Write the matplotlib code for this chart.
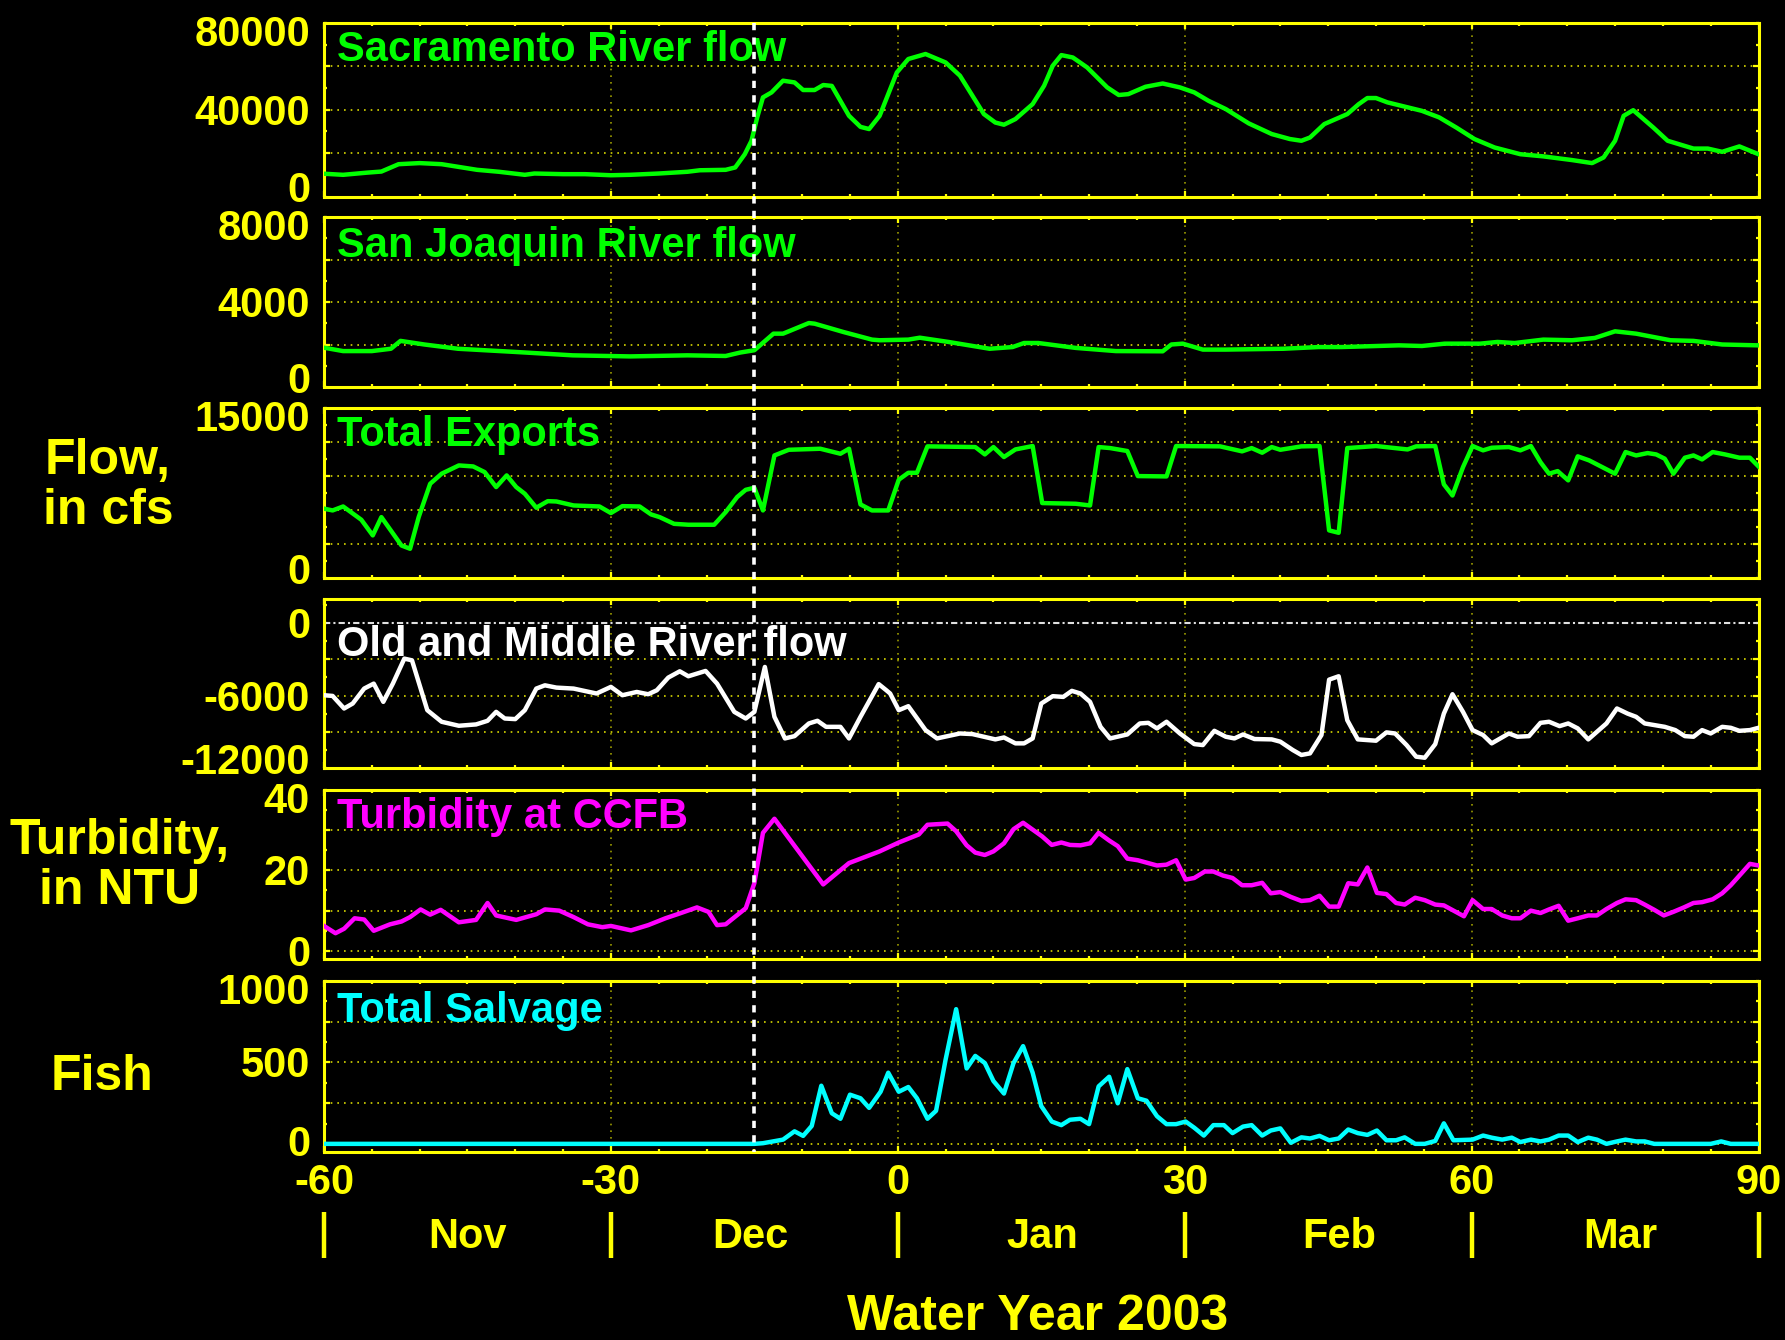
import matplotlib
matplotlib.use("Agg")
import matplotlib.pyplot as plt
from matplotlib.transforms import blended_transform_factory, offset_copy
from matplotlib.ticker import MultipleLocator

# ---------------- data (day relative to Jan 1, 2003) ----------------
sac_days = [-60, -58, -55.5, -54, -52.2, -50, -47.7, -44, -41.7, -39, -38, -35, -32.7, -30, -28, -25, -22,
            -20.7, -18, -17, -16, -15.3, -14.7, -14.1, -13.2, -12, -10.8, -9.9, -8.7, -7.8, -6.9, -5.1, -3.9,
            -3, -1.9, -0.1, 1.1, 2.9, 5, 6.5, 9, 10.2, 11.1, 12.3, 14.1, 15.3, 16.2, 17.1, 18.3, 19.8, 21.9,
            23.1, 24.1, 25.9, 27.7, 29.5, 31, 32.5, 34.3, 36.7, 39.1, 41, 42.2, 43.1, 44.6, 47, 48.2, 49.1, 50,
            51.2, 54.8, 56.6, 58.4, 60.3, 62.4, 65.1, 67.5, 70.5, 72.6, 73.8, 75, 75.9, 76.9, 79, 80.5, 81.7,
            83.2, 84.7, 86.2, 88, 90]
sac_flow = [10500, 10000, 11000, 11500, 14900, 15400, 14900, 12300, 11400, 10000, 10600, 10300, 10300, 9800,
            10000, 10600, 11400, 12100, 12300, 13400, 19500, 25700, 36500, 45700, 48000, 53400, 52600, 49100,
            49100, 51400, 51000, 37200, 32100, 31100, 37200, 57200, 63400, 65700, 61800, 55700, 38000, 34100,
            33100, 35700, 42600, 51100, 60300, 65200, 64100, 59500, 50300, 46800, 47200, 50600, 52100, 50300,
            48000, 44100, 40300, 33700, 28800, 26500, 25700, 27200, 33400, 38000, 42600, 45400, 45400, 43400,
            39500, 36500, 31800, 26500, 22600, 19500, 18500, 16800, 15400, 18000, 25700, 37200, 39800, 31800,
            25700, 24100, 22100, 22100, 20600, 23100, 19500]

sj_days = [-60, -58, -55, -53, -52, -49.5, -46, -40, -34, -28, -22, -18, -16.5, -15, -13, -12, -9.3, -8.7, -5.7,
           -2.7, -1.9, 1.1, 2.3, 5.3, 9.6, 12, 13.2, 14.7, 18.6, 22.8, 27.7, 28.6, 29.8, 31.9, 34.3, 40.3, 44,
           46.4, 52.4, 54.8, 57.2, 60.9, 62.7, 64.5, 67.5, 70.5, 72.9, 75, 77.2, 80.8, 83.2, 86.2, 90]
sj_flow = [1850, 1690, 1690, 1800, 2170, 2000, 1800, 1650, 1490, 1440, 1490, 1460, 1620, 1730, 2510, 2510, 3010,
           2980, 2590, 2230, 2200, 2230, 2320, 2120, 1800, 1880, 2070, 2070, 1840, 1690, 1680, 2000, 2040, 1760,
           1760, 1800, 1880, 1880, 1960, 1930, 2040, 2040, 2120, 2070, 2230, 2200, 2310, 2620, 2510, 2200, 2170,
           2000, 1960]

exp_days = [-60, -59.1, -58, -56.1, -54.9, -54, -51.9, -51, -50.1, -48.9, -47.7, -45.9, -44.4, -43.2, -42, -40.9,
            -39.9, -39, -37.8, -36.6, -35.7, -33.9, -31.2, -30, -28.8, -27, -25.8, -24.9, -23.4, -21.9, -19.2, -18,
            -16.8, -15.9, -15, -14.1, -12.9, -11.4, -8.1, -6, -5.1, -3.9, -2.7, -1, 0.1, 1.1, 2, 3.1, 8.1, 9.1, 10,
            11.1, 12.3, 14.1, 15.1, 18.6, 20.1, 21, 22.2, 24, 25.1, 28.1, 29.1, 33.7, 36, 37, 38.1, 39.1, 40, 42.2,
            44.1, 45.1, 46.1, 47, 50, 53.3, 54.2, 56.2, 57.1, 58, 59.1, 60.1, 61.2, 62.1, 63.9, 65.1, 66.2, 67.2,
            68.1, 69, 70.1, 71.1, 72.3, 75, 76.1, 77.2, 78.4, 79.3, 80.2, 81.1, 82.3, 83.2, 84.1, 85.2, 86.5, 88,
            89.1, 90]
exports = [6100, 5940, 6290, 5120, 3740, 5350, 2850, 2560, 5350, 8290, 9180, 9910, 9820, 9320, 8000, 9030, 8000,
           7410, 6180, 6760, 6730, 6380, 6290, 5710, 6320, 6290, 5590, 5350, 4760, 4680, 4680, 5790, 7120, 7760,
           7940, 5940, 10790, 11290, 11380, 10940, 11380, 6470, 5940, 5940, 8650, 9260, 9260, 11590, 11530, 10880,
           11530, 10650, 11320, 11620, 6590, 6530, 6380, 11530, 11440, 11180, 8970, 8940, 11620, 11590, 11150,
           11440, 11030, 11530, 11290, 11590, 11620, 4180, 3970, 11440, 11620, 11320, 11590, 11620, 8240, 7260,
           9760, 11620, 11240, 11470, 11530, 11240, 11620, 10200, 9180, 9410, 8590, 10710, 10350, 9180, 11090,
           10790, 11000, 10880, 10500, 9180, 10590, 10790, 10440, 11090, 10880, 10590, 10590, 9820]

omr_days = [-60, -59.1, -57.9, -57, -55.8, -54.8, -53.8, -52.8, -51.6, -50.8, -49.2, -47.7, -45.9, -44.1, -42.9,
            -42, -41.1, -40, -39, -37.8, -36.9, -35.7, -33.9, -31.5, -30, -28.8, -27.3, -26.1, -25.2, -24, -22.8,
            -21.9, -20.1, -18.9, -17.1, -15.9, -15, -13.9, -12.9, -11.8, -10.8, -9.3, -8.4, -7.5, -6, -5.1, -3.9,
            -2, -1.2, -0.8, 0.1, 1.1, 2.9, 4.1, 6.5, 7.8, 10.2, 11.1, 12.3, 13.2, 14.1, 15, 16.2, 17.3, 18.2, 19.1,
            20.1, 21.2, 22.2, 24, 25.3, 26.2, 27.1, 28.1, 29.5, 31, 31.9, 33.1, 34.3, 35.2, 36.1, 37.3, 39.1, 40,
            41.3, 42.2, 43.1, 44.3, 45.1, 46.1, 47, 48.1, 50, 51.1, 52, 53.2, 54.2, 55.1, 56.2, 57.1, 58, 59.1,
            60.1, 61.2, 62.1, 63.9, 64.8, 66, 67.2, 68.1, 69.2, 70.1, 71.1, 72.2, 74.1, 75.2, 76.3, 77.2, 78.1,
            80.2, 81.3, 82.3, 83.2, 84.1, 85, 86.2, 87.1, 88, 89.1, 90]
omr_flow = [-5970, -6030, -7070, -6660, -5420, -5010, -6520, -5010, -2940, -3080, -7210, -8170, -8500, -8390,
            -8090, -7350, -7900, -7950, -7210, -5420, -5150, -5340, -5420, -5830, -5280, -5970, -5700, -5890,
            -5560, -4510, -3990, -4400, -3960, -5010, -7350, -7900, -7350, -3630, -7760, -9550, -9360, -8310,
            -8090, -8590, -8590, -9550, -7760, -5050, -5560, -5830, -7210, -6880, -8860, -9550, -9140, -9190,
            -9630, -9470, -9960, -9960, -9550, -6660, -6050, -6110, -5610, -5830, -6520, -8590, -9550, -9220,
            -8310, -8260, -8720, -8170, -9140, -10020, -10100, -8920, -9410, -9550, -9220, -9600, -9630, -9820,
            -10510, -10920, -10790, -9270, -4680, -4400, -8040, -9630, -9740, -9050, -9140, -10100, -11060,
            -11150, -10020, -7490, -5890, -7350, -8860, -9270, -9960, -9140, -9410, -9360, -8260, -8170, -8530,
            -8310, -8720, -9630, -8310, -7070, -7490, -7760, -8310, -8590, -8860, -9360, -9410, -8860, -9140,
            -8590, -8670, -8920, -8860, -8670]

turb_days = [-60, -58.8, -57.9, -56.8, -55.8, -54.8, -53.1, -51.9, -51, -49.9, -48.9, -47.8, -45.9, -44.1, -42.9,
             -42, -39.9, -37.8, -36.9, -35.4, -33.9, -32.4, -30.9, -30, -27.9, -26.1, -24.3, -22.8, -21, -19.8,
             -18.9, -18, -15.9, -15, -14.1, -12.9, -7.8, -5.1, -1.9, 0.1, 2.2, 3.1, 5.2, 6.1, 7.2, 8.1, 9.1, 10,
             11.1, 12.1, 13.1, 15.1, 16.1, 17.1, 18, 19.1, 20.1, 21, 22.1, 23, 24, 25.1, 27.1, 28.1, 29.1, 30.1,
             31, 32.1, 33, 34, 35, 36, 37, 38.1, 39, 40, 41.1, 42.2, 43.1, 44.1, 45.1, 46.1, 47.1, 48.1, 49.1,
             50.1, 51.1, 52.1, 53, 54.1, 55.1, 56.2, 57.1, 59.2, 60.1, 61.2, 62.1, 63.2, 64.2, 65.1, 66.2, 67.2,
             68.1, 69.1, 70.1, 71.1, 72.2, 73.1, 74.1, 75.2, 76.1, 77.2, 78.1, 79.1, 80.1, 81.1, 82.2, 83.2, 84.1,
             85.2, 86.2, 87.1, 88.2, 89.1, 90]
turbidity = [6.2, 4.4, 5.5, 8.1, 7.8, 5.0, 6.6, 7.3, 8.4, 10.3, 9.0, 10.2, 7.1, 7.7, 11.9, 8.8, 7.7, 9.1, 10.3,
             10.0, 8.4, 6.6, 5.9, 6.2, 5.1, 6.4, 8.1, 9.3, 10.8, 9.7, 6.4, 6.6, 10.6, 16.8, 29.3, 32.8, 16.5, 21.8,
             24.7, 26.9, 28.9, 31.3, 31.6, 29.7, 26.2, 24.4, 23.8, 24.7, 26.7, 30.2, 31.8, 28.4, 26.3, 26.9, 26.3,
             26.2, 26.7, 29.3, 27.4, 26.0, 22.9, 22.5, 21.2, 21.4, 22.5, 17.7, 18.1, 19.7, 19.7, 18.7, 18.1, 16.3,
             16.3, 16.9, 14.3, 14.6, 13.4, 12.4, 12.6, 13.7, 11.0, 11.0, 16.8, 16.5, 20.7, 14.4, 14.1, 11.9, 11.5,
             13.2, 12.6, 11.5, 11.3, 8.6, 12.6, 10.4, 10.4, 8.8, 8.1, 8.1, 10.0, 9.4, 10.3, 11.2, 7.5, 8.1, 8.8,
             8.8, 10.4, 11.9, 12.8, 12.6, 11.5, 10.2, 8.8, 9.7, 10.8, 11.9, 12.1, 12.8, 14.3, 16.3, 19.2, 21.6,
             21.2]

salv_days = [-60, -15, -14.1, -12, -10.8, -9.9, -9, -8, -6.9, -6, -5, -3.9, -3, -1.8, -1, 0.1, 1.1, 2, 3.1, 4, 5,
             6.1, 7.2, 8.1, 9.1, 10, 11.1, 12.1, 13.1, 14.1, 15, 16.1, 17.1, 18, 19.1, 20, 21, 22.1, 23, 24, 25.1,
             26, 27.1, 28.1, 29.1, 30.1, 31, 32, 33, 34.1, 35, 36.1, 37, 38.1, 39, 40, 41.1, 42.2, 43.1, 44.1,
             45.1, 46.1, 47.1, 48.1, 49.1, 50.1, 51.1, 52.1, 53, 54.1, 55.1, 56.2, 57.1, 58.1, 60.1, 61.2, 62.1,
             63.2, 64.2, 65.1, 66.2, 67.2, 68.1, 69.1, 70.1, 71.1, 72.2, 73.1, 74.1, 75.2, 76.1, 77.2, 78.1, 79.1,
             85, 86.1, 87.1, 90]
salvage = [0, 0, 4, 26, 77, 49, 110, 357, 188, 154, 302, 280, 221, 320, 437, 320, 349, 280, 154, 203, 518, 827,
           463, 540, 496, 386, 309, 496, 600, 437, 232, 137, 115, 148, 154, 121, 353, 412, 249, 459, 280, 265, 170,
           121, 121, 137, 99, 51, 115, 115, 66, 106, 115, 51, 82, 95, 7, 40, 33, 49, 22, 33, 88, 66, 55, 82, 22,
           22, 40, 0, 0, 18, 126, 22, 26, 51, 38, 26, 38, 11, 26, 15, 26, 51, 51, 11, 38, 26, 0, 15, 26, 15, 15,
           0, 0, 15, 0, 0]

event_day = -15
x_ticks = [-60, -30, 0, 30, 60, 90]
month_names = ["Nov", "Dec", "Jan", "Feb", "Mar"]
month_label_days = [-45, -15.4, 15.1, 46.2, 75.6]
month_bounds = [-60, -30, 0, 30, 60, 90]

panel_titles = ["Sacramento River flow", "San Joaquin River flow", "Total Exports",
                "Old and Middle River flow", "Turbidity at CCFB", "Total Salvage"]
series = [(sac_days, sac_flow), (sj_days, sj_flow), (exp_days, exports),
          (omr_days, omr_flow), (turb_days, turbidity), (salv_days, salvage)]
for d, v in series:
    assert len(d) == len(v), (len(d), len(v))

ylims = [(0, 80000), (0, 8000), (0, 15000), (-12000, 2000), (-2, 40), (-50, 1000)]
ygrids = [[20000, 40000, 60000], [2000, 4000, 6000], [3000, 6000, 9000, 12000],
          [-3000, -6000, -9000], [0, 10, 20, 30], [0, 250, 500, 750]]
ylabel_vals = [[0, 40000, 80000], [0, 4000, 8000], [0, 15000], [0, -6000, -12000],
               [0, 20, 40], [0, 500, 1000]]
ylabel_txt = [["0", "40000", "80000"], ["0", "4000", "8000"], ["0", "15000"], ["0", "-6000", "-12000"],
              ["0", "20", "40"], ["0", "500", "1000"]]

# ---------------- styling ----------------
YEL = "#ffff00"
GREEN = "#00ff00"
colors = [GREEN, GREEN, GREEN, "#ffffff", "#ff00ff", "#00ffff"]
title_drop = [38, 40, 38, 57, 38, 41]   # px below panel top to title baseline

W, H = 1785, 1340
plt.rcParams["font.family"] = ["Liberation Sans", "DejaVu Sans"]
plt.rcParams["font.weight"] = "bold"
fig = plt.figure(figsize=(W / 100, H / 100), dpi=100, facecolor="black")

left_px, right_px = 324, 1758.5
panels_px = [(23, 196.5), (217, 387), (407.7, 577.8), (599, 768), (789.7, 959), (981, 1152)]

FS = 30
BIG = 36
axes = []
for i, (top, bot) in enumerate(panels_px):
    ax = fig.add_axes([left_px / W, 1 - bot / H, (right_px - left_px) / W, (bot - top) / H])
    ax.set_facecolor("black")
    d, v = series[i]
    ax.plot(d, v, color=colors[i], lw=3.2, solid_joinstyle="round", zorder=3)
    ax.set_xlim(-60, 90)
    ax.set_ylim(*ylims[i])
    for sp in ax.spines.values():
        sp.set_color(YEL)
        sp.set_linewidth(2.2)
    # grid lines
    for g in ygrids[i]:
        ax.axhline(g, color="#d8d800", lw=1.2, ls=(0, (1, 3)), zorder=1)
    for g in x_ticks[1:-1]:
        ax.axvline(g, color="#9a9a00", lw=1.2, ls=(0, (1, 3)), zorder=1)
    if i == 3:
        ax.axhline(0, color="#e0e0e0", lw=1.5, ls=(0, (3, 1.5, 1, 1.5)), zorder=2)
    # ticks
    ax.set_xticks(x_ticks)
    ax.xaxis.set_minor_locator(MultipleLocator(5))
    ax.set_yticks(ygrids[i])
    step = abs(ygrids[i][1] - ygrids[i][0])
    ax.yaxis.set_minor_locator(MultipleLocator(step / 2))
    ax.tick_params(which="both", direction="in", colors=YEL, top=True, right=True,
                   labelleft=False, labelbottom=False, width=1.6)
    ax.tick_params(which="major", length=4)
    ax.tick_params(which="minor", length=2.5)
    # y tick labels
    lo, hi = ylims[i]
    btr = blended_transform_factory(ax.transAxes, ax.transData)
    for val, txt in zip(ylabel_vals[i], ylabel_txt[i]):
        dy = -15
        if val == hi:
            dy -= 8
        elif val == lo:
            dy += 9
        elif i == 5 and val == 0:
            dy += 3
        tr = offset_copy(btr, fig=fig, x=-14, y=dy, units="dots")
        ax.text(0, val, txt, transform=tr, ha="right", va="baseline", color=YEL,
                fontsize=FS, fontweight="bold")
    # panel title
    ttr = offset_copy(ax.transAxes, fig=fig, x=13, y=-title_drop[i], units="dots")
    ax.text(0, 1, panel_titles[i], transform=ttr, ha="left", va="baseline", color=colors[i],
            fontsize=FS, fontweight="bold", zorder=5)
    axes.append(ax)

ax6 = axes[-1]
xfig = blended_transform_factory(ax6.transData, fig.transFigure)

# vertical event line across all panels
ax6.plot([event_day, event_day], [1 - 23 / H, 1 - 1152 / H], transform=xfig, color="white",
         lw=2.6, ls=(0, (2, 2)), clip_on=False, zorder=10)

# x tick labels
for xv in x_ticks:
    ax6.text(xv, 1 - 1194 / H, str(xv), transform=xfig, ha="center", va="baseline",
             color=YEL, fontsize=FS, fontweight="bold")

# month row
for name, md in zip(month_names, month_label_days):
    ax6.text(md, 1 - 1248 / H, name, transform=xfig, ha="center", va="baseline",
             color=YEL, fontsize=FS, fontweight="bold")
for mb in month_bounds:
    ax6.plot([mb, mb], [1 - 1212 / H, 1 - 1258 / H], transform=xfig, color=YEL, lw=3.2,
             clip_on=False, solid_capstyle="butt")

# axis titles
fig.text(1038 / W, 1 - 1330 / H, "Water Year 2003", ha="center", va="baseline", color=YEL,
         fontsize=BIG, fontweight="bold")
fig.text(108 / W, 1 - 486 / H, "Flow,\nin cfs", ha="center", va="center", color=YEL,
         fontsize=BIG, fontweight="bold", linespacing=1.1, multialignment="center")
fig.text(120 / W, 1 - 866 / H, "Turbidity,\nin NTU", ha="center", va="center", color=YEL,
         fontsize=BIG, fontweight="bold", linespacing=1.1, multialignment="center")
fig.text(102 / W, 1 - 1077 / H, "Fish", ha="center", va="center", color=YEL,
         fontsize=BIG, fontweight="bold")

fig.savefig("out.png", dpi=100, facecolor="black")
